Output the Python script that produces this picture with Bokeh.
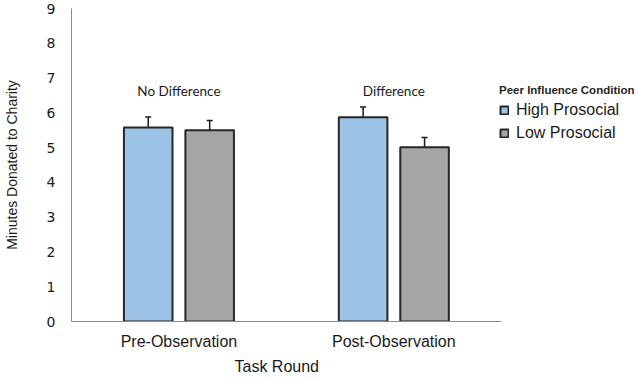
from bokeh.plotting import figure
from bokeh.models import (ColumnDataSource, Range1d, Whisker, Legend,
                          LegendItem, TeeHead, FixedTicker, Title)
from bokeh.transform import dodge
from bokeh.core.properties import value
from bokeh.embed import file_html
from bokeh.resources import INLINE

rounds = ["Pre-Observation", "Post-Observation"]
conditions = ["High Prosocial", "Low Prosocial"]
high_means = [5.58, 5.87]
low_means = [5.50, 5.01]
high_err = [0.30, 0.30]
low_err = [0.28, 0.28]
annotations = ["No Difference", "Difference"]
y_ticks = [0, 1, 2, 3, 4, 5, 6, 7, 8, 9]

colors = {"High Prosocial": "#9DC3E6", "Low Prosocial": "#A5A5A5"}
offsets = {"High Prosocial": -0.143, "Low Prosocial": 0.143}

# category centres on a numeric axis (one unit per category)
xpos = [i + 0.5 for i in range(len(rounds))]
n_cat = len(rounds)

p = figure(x_range=Range1d(0, 2.62), y_range=Range1d(0, 9),
           width=634, height=379, output_backend="svg", toolbar_location=None,
           min_border_left=67, min_border_right=0, min_border_top=8,
           min_border_bottom=58)

renderers = {}
for cond, means, errs in [("High Prosocial", high_means, high_err),
                          ("Low Prosocial", low_means, low_err)]:
    src = ColumnDataSource(dict(
        x=xpos, top=means,
        upper=[m + e for m, e in zip(means, errs)],
        lower=[m - e for m, e in zip(means, errs)],
    ))
    r = p.vbar(x=dodge("x", offsets[cond]), top="top", width=0.226,
               source=src, fill_color=colors[cond], line_color="#262626", line_width=2)
    renderers[cond] = r
    w = Whisker(base=dodge("x", offsets[cond]), upper="upper",
                lower="lower", source=src, line_color="#1a1a1a", line_width=1.5,
                upper_head=TeeHead(size=6, line_width=1.5, line_color="#1a1a1a"),
                lower_head=TeeHead(size=6, line_width=1.5, line_color="#1a1a1a"))
    p.add_layout(w)

ann_src = ColumnDataSource(dict(x=xpos, y=[6.62, 6.62], text=annotations))
p.text(x="x", y="y", text="text", source=ann_src, text_align="center",
       text_baseline="middle", text_font=value("Lato"), text_font_size="13.5px",
       text_color="#1a1a1a")

legend = Legend(items=[LegendItem(label=c, renderers=[renderers[c]]) for c in conditions],
                location=(428, 179), title="Peer Influence Condition",
                title_text_font="Liberation Sans", title_text_font_style="bold",
                title_text_font_size="11.5px", title_text_color="#262626", title_standoff=5,
                label_text_font="Liberation Sans", label_text_font_size="16px",
                label_text_color="#1a1a1a", glyph_width=10, glyph_height=10,
                label_standoff=7, spacing=5, padding=0, margin=0,
                background_fill_alpha=0, border_line_color=None)
p.add_layout(legend)

p.xgrid.grid_line_color = None
p.ygrid.grid_line_color = None
p.outline_line_color = None

p.xaxis.ticker = FixedTicker(ticks=xpos)
p.xaxis.major_label_overrides = {x: name for x, name in zip(xpos, rounds)}
p.xaxis.bounds = (0, n_cat)
p.xaxis.axis_line_color = "#8c8c8c"
p.xaxis.major_tick_line_color = None
p.xaxis.minor_tick_line_color = None
p.xaxis.major_label_text_font = "Liberation Sans"
p.xaxis.major_label_text_font_size = "16px"
p.xaxis.major_label_text_color = "#1a1a1a"
p.xaxis.major_label_standoff = 5

x_title = Title(text="Task Round", align="left", offset=163, standoff=6,
                text_font="Liberation Sans", text_font_size="16px",
                text_font_style="normal", text_color="#1a1a1a")
p.add_layout(x_title, "below")

p.yaxis.ticker = FixedTicker(ticks=y_ticks)
p.yaxis.axis_line_color = "#8c8c8c"
p.yaxis.major_tick_line_color = None
p.yaxis.minor_tick_line_color = None
p.yaxis.major_label_text_font = "DejaVu Sans"
p.yaxis.major_label_text_font_size = "14px"
p.yaxis.major_label_text_color = "#1a1a1a"
p.yaxis.major_label_standoff = 10
p.yaxis.axis_label = "Minutes Donated to Charity"
p.yaxis.axis_label_text_font = "Liberation Sans"
p.yaxis.axis_label_text_font_style = "normal"
p.yaxis.axis_label_text_font_size = "14px"
p.yaxis.axis_label_text_color = "#1a1a1a"
p.yaxis.axis_label_standoff = 24

open("out.html", "w").write(file_html(p, INLINE))
